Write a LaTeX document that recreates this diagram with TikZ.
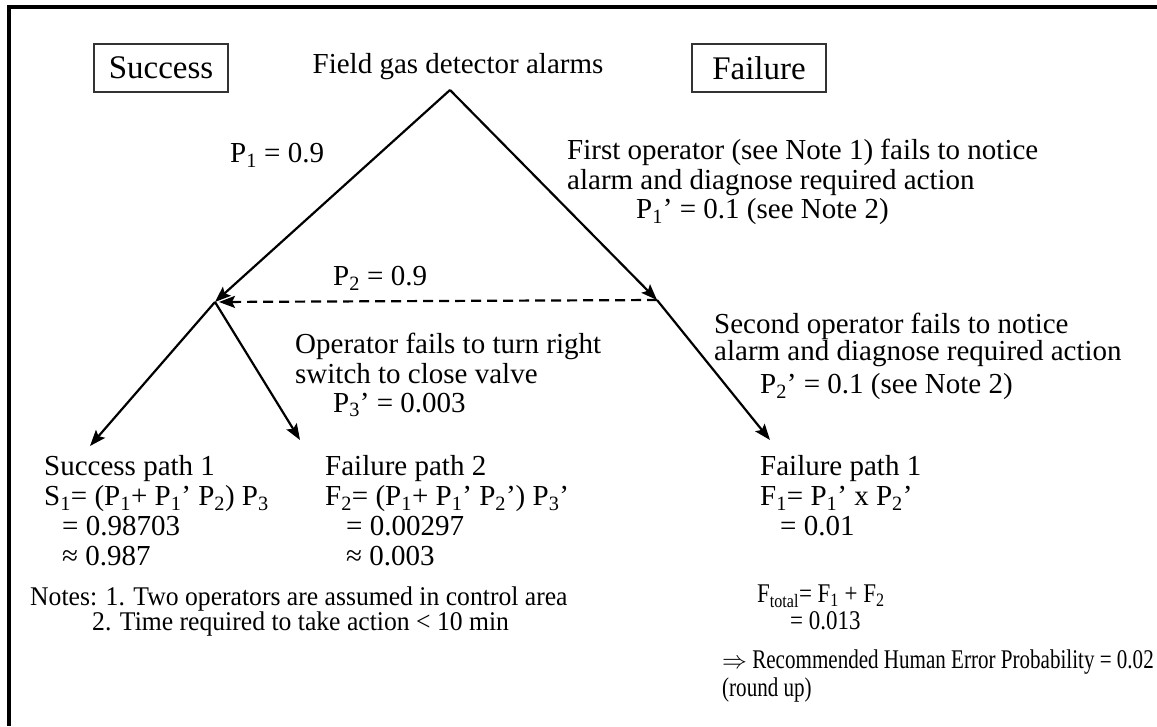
\documentclass[tikz,border=0pt]{standalone}
\usepackage{fontspec}
\setmainfont{Liberation Serif}
\newfontfamily\notesfont[FakeStretch=0.95]{Liberation Serif}
\newfontfamily\totalfont[FakeStretch=0.85]{Liberation Serif}
\newfontfamily\hepfont[FakeStretch=0.78]{Liberation Serif}
\usetikzlibrary{arrows.meta}
\newcommand{\Psub}[1]{P\textsubscript{#1}}
\newcommand{\diagfont}{\fontsize{29}{30}\selectfont}

\begin{document}
\begin{tikzpicture}[x=1pt,y=-1pt,
    every node/.style={inner sep=0pt, font=\diagfont},
    branch/.style={line width=2.2pt, -{Stealth[length=16pt,width=12pt,inset=3pt]}},
    headbox/.style={draw=black!80, line width=1.5pt, font=\fontsize{33}{36}\selectfont,
      minimum width=134pt, minimum height=48pt}]
  \fill[white] (0,0) rectangle (1157,726);
  \useasboundingbox (0,0) rectangle (1157,726);
  % frame
  \draw[line width=4pt, line join=miter] (9,726) -- (9,7) -- (1157,7);

  % headings
  \node[headbox] (success) at (161,68) {Success};
  \node[headbox] (failure) at (759,68) {Failure};
  \node (alarm) at (458,67) {Field gas detector alarms};

  % tree points
  \coordinate (top) at (450,90);
  \coordinate (left) at (215,302);
  \coordinate (right) at (657,300);
  \coordinate (tipS1) at (90,446);
  \coordinate (tipF2) at (300,440);
  \coordinate (tipF1) at (770,440);

  \draw[branch] (top) -- (left);
  \draw[branch] (top) -- (right);
  \draw[branch, dash pattern=on 10pt off 6pt, shorten >=4pt] (right) -- (left);
  \draw[branch] (left) -- (tipS1);
  \draw[branch] (left) -- (tipF2);
  \draw[branch] (right) -- (tipF1);

  % branch labels
  \node[anchor=west] (p1) at (230,155) {\Psub{1} = 0.9};
  \node[anchor=west] (p2) at (333,278) {\Psub{2} = 0.9};
  \node[anchor=north west, align=left] (first) at (567,139)
    {First operator (see Note 1) fails to notice\\ alarm and diagnose required action};
  \node[anchor=west] (p1f) at (636,212) {\Psub{1}’ = 0.1 (see Note 2)};
  \node[anchor=north west, align=left] (oper) at (295,333)
    {Operator fails to turn right\\ switch to close valve};
  \node[anchor=west] (p3f) at (333,405) {\Psub{3}’ = 0.003};
  \node[anchor=north west, align=left, font=\fontsize{29}{27}\selectfont] (second) at (714,313)
    {Second operator fails to notice\\ alarm and diagnose required action};
  \node[anchor=west] (p2f) at (760,387) {\Psub{2}’ = 0.1 (see Note 2)};

  % outcomes
  \node[anchor=north west, align=left] (sp1) at (44,455)
    {Success path 1\\ S\textsubscript{1}= (\Psub{1}+ \Psub{1}’ \Psub{2}) \Psub{3}\\
     \hspace*{18pt}= 0.98703\\ \hspace*{18pt}≈ 0.987};
  \node[anchor=north west, align=left] (fp2) at (325,455)
    {Failure path 2\\ F\textsubscript{2}= (\Psub{1}+ \Psub{1}’ \Psub{2}’) \Psub{3}’\\
     \hspace*{21pt}= 0.00297\\ \hspace*{21pt}≈ 0.003};
  \node[anchor=north west, align=left] (fp1) at (760,455)
    {Failure path 1\\ F\textsubscript{1}= \Psub{1}’ x \Psub{2}’\\ \hspace*{20pt}= 0.01};

  % notes and totals
  \node[anchor=north west, align=left, font=\notesfont\fontsize{27}{25}\selectfont] (notes) at (30,587)
    {Notes: 1. Two operators are assumed in control area\\
     \hspace*{62pt}2. Time required to take action < 10 min};
  \node[anchor=north west, align=left, font=\totalfont\fontsize{27}{27}\selectfont] (ftotal) at (757,585)
    {F\textsubscript{total}= F\textsubscript{1} + F\textsubscript{2}\\ \hspace*{33pt}= 0.013};
  \node[anchor=north west, align=left, font=\hepfont\fontsize{27}{28}\selectfont] (hep) at (722,650)
    {$\Rightarrow$ Recommended Human Error Probability = 0.02\\ (round up)};
\end{tikzpicture}
\end{document}
